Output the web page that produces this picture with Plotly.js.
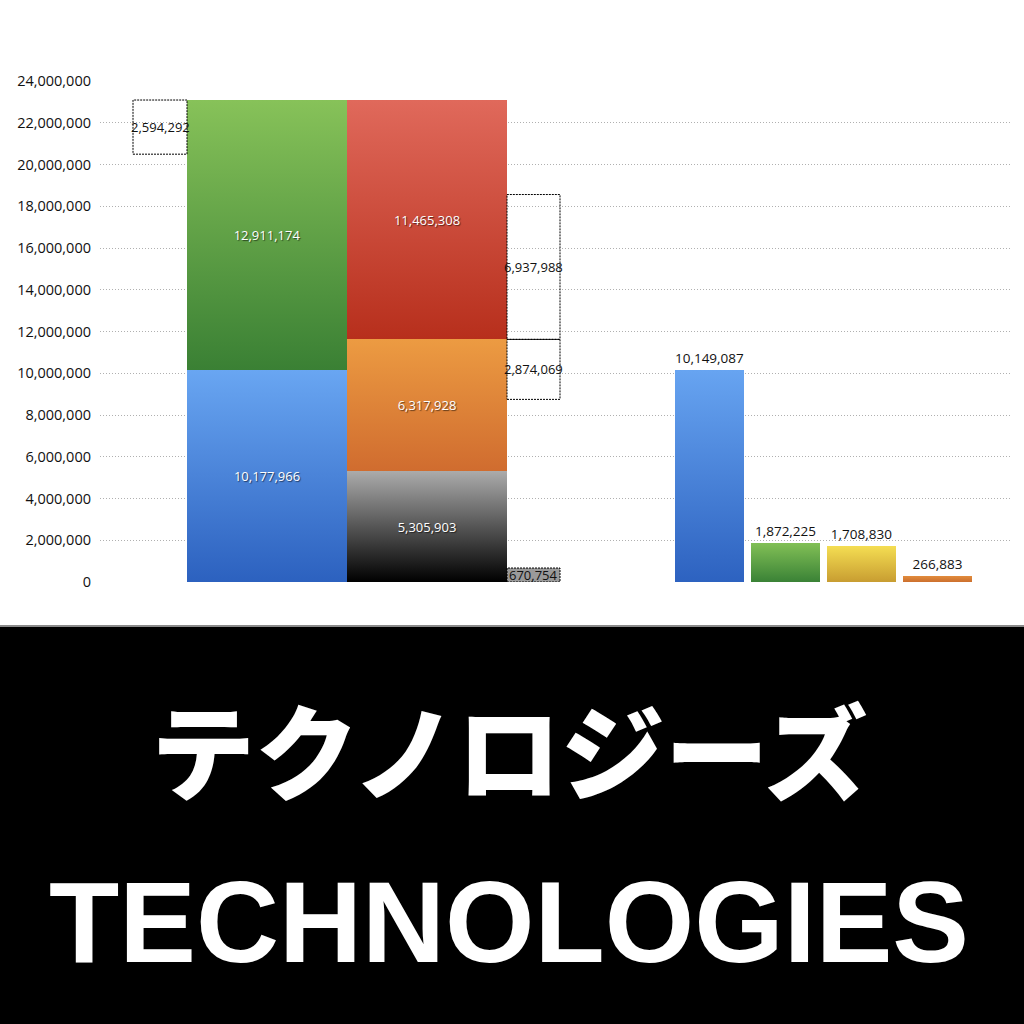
<!DOCTYPE html>
<html>
<head>
<meta charset="utf-8">
<script src="https://cdn.plot.ly/plotly-3.0.1.min.js"></script>
<style>
  html, body { margin: 0; padding: 0; background: #fff; }
  #chart { width: 1024px; height: 1024px; }
</style>
</head>
<body>
<div id="chart"></div>
<script>
// left stacked bar, bottom to top
var barAValues = [10177966, 12911174];
// right stacked bar, bottom to top
var barBValues = [5305903, 6317928, 11465308];
// dotted difference boxes
var gapLeft = 2594292;
var gapRight = [2874069, 6937988];
var gapSmall = 670754;
// separate bars on the right
var rightValues = [10149087, 1872225, 1708830, 266883];

var yTicks = [0, 2e6, 4e6, 6e6, 8e6, 10e6, 12e6, 14e6, 16e6, 18e6, 20e6, 22e6, 24e6];

function fmt(v) { return v.toLocaleString('en-US'); }

var labelFont = { family: 'Open Sans, sans-serif', size: 13, color: '#ffffff', shadow: '1px 1px 1px rgba(0,0,0,0.55)' };

// [top, bottom] colour pairs for the gradients
var gradA = [['#69a6f2', '#2c61bf'], ['#87c259', '#3a8034']];
var gradB = [['#ababab', '#000000'], ['#ec9b42', '#d06c2f'], ['#e0695b', '#b72f1c']];
var gradRight = [['#67a4f1', '#2d62c0'], ['#82c056', '#3a8236'], ['#f4dd52', '#c89d31'], ['#e08a3c', '#cc6f2e']];

var traces = [];
barAValues.forEach(function(v, i) {
  traces.push({
    type: 'bar', x: [167], y: [v], width: 160,
    marker: { color: gradA[i][1], line: { width: 0 } },
    text: [fmt(v)], textposition: 'inside', insidetextanchor: 'middle',
    constraintext: 'none', textangle: 0, textfont: labelFont, hoverinfo: 'skip'
  });
});
barBValues.forEach(function(v, i) {
  traces.push({
    type: 'bar', x: [327], y: [v], width: 160,
    marker: { color: gradB[i][1], line: { width: 0 } },
    text: [fmt(v)], textposition: 'inside', insidetextanchor: 'middle',
    constraintext: 'none', textangle: 0, textfont: labelFont, hoverinfo: 'skip'
  });
});
traces.push({
  type: 'bar', x: [609.5, 685.5, 761.5, 837.5], y: rightValues, width: 69,
  marker: { color: gradRight.map(function(g) { return g[1]; }), line: { width: 0 } },
  text: rightValues.map(fmt), textposition: 'outside', cliponaxis: false,
  constraintext: 'none', textangle: 0,
  textfont: { family: 'Open Sans, sans-serif', size: 13.5, color: '#111' }, hoverinfo: 'skip'
});

var topA = barAValues.reduce(function(a, b) { return a + b; }, 0);
var midB = barBValues[0] + barBValues[1];

var boxes = [
  { x0: 33, x1: 87, y0: topA - gapLeft, y1: topA, v: gapLeft, fill: 'rgba(0,0,0,0)' },
  { x0: 407, x1: 460, y0: midB - gapRight[0], y1: midB, v: gapRight[0], fill: 'rgba(0,0,0,0)' },
  { x0: 407, x1: 460, y0: midB, y1: midB + gapRight[1], v: gapRight[1], fill: 'rgba(0,0,0,0)' },
  { x0: 407, x1: 460, y0: 0, y1: gapSmall, v: gapSmall, fill: '#9a9a9a' }
];

var shapes = [
  // black footer and grey rule
  { type: 'rect', xref: 'paper', yref: 'paper', x0: -0.12, x1: 1.03, y0: 0, y1: 0.3877, fillcolor: '#000', line: { width: 0 }, layer: 'below' },
  { type: 'rect', xref: 'paper', yref: 'paper', x0: -0.12, x1: 1.03, y0: 0.3877, y1: 0.3896, fillcolor: '#8a8a8a', line: { width: 0 }, layer: 'below' }
];
var annotations = [];
boxes.forEach(function(b) {
  shapes.push({ type: 'rect', xref: 'x', yref: 'y', x0: b.x0, x1: b.x1, y0: b.y0, y1: b.y1,
    fillcolor: b.fill, line: { color: '#000', width: 1, dash: '2px,1px' }, layer: 'above' });
  annotations.push({ xref: 'x', yref: 'y', x: (b.x0 + b.x1) / 2, y: (b.y0 + b.y1) / 2,
    text: fmt(b.v), showarrow: false, font: { family: 'Open Sans, sans-serif', size: 13, color: '#111' } });
});

annotations.push({ xref: 'paper', yref: 'paper', x: 0.4505, y: 0.2705, xanchor: 'center', yanchor: 'middle',
  text: 'テクノロジーズ', showarrow: false,
  font: { family: '"Noto Sans CJK JP", sans-serif', size: 104, color: '#fff', weight: 900 } });
annotations.push({ xref: 'paper', yref: 'paper', x: 0.4495, y: 0.0996, xanchor: 'center', yanchor: 'middle',
  text: 'TECHNOLOGIES', showarrow: false,
  font: { family: '"Liberation Sans", Arial, sans-serif', size: 115, color: '#fff', weight: 700 } });

var layout = {
  width: 1024, height: 1024,
  margin: { l: 100, r: 14, t: 0, b: 0 },
  paper_bgcolor: '#fff', plot_bgcolor: 'rgba(0,0,0,0)',
  barmode: 'stack', showlegend: false,
  xaxis: { range: [0, 910], visible: false, fixedrange: true },
  yaxis: {
    domain: [0.4316, 0.9209], range: [0, 24e6],
    tickvals: yTicks, ticktext: yTicks.map(fmt),
    showgrid: true, gridcolor: '#b0b0b0', griddash: '1px,2px', gridwidth: 1,
    zeroline: false, showline: false, ticks: '', ticklabelstandoff: 8,
    tickfont: { family: 'Open Sans, sans-serif', size: 14.5, color: '#111' }, fixedrange: true
  },
  shapes: shapes,
  annotations: annotations
};

var gd = document.getElementById('chart');
Plotly.newPlot(gd, traces, layout, { staticPlot: true }).then(function() {
  // paint vertical gradients onto the bar paths
  var svg = gd.querySelector('svg.main-svg');
  var ns = 'http://www.w3.org/2000/svg';
  var defs = svg.querySelector('defs') || svg.insertBefore(document.createElementNS(ns, 'defs'), svg.firstChild);
  var pairsPerTrace = [[gradA[0]], [gradA[1]], [gradB[0]], [gradB[1]], [gradB[2]], gradRight];
  var groups = gd.querySelectorAll('.barlayer .trace');
  groups.forEach(function(g, ti) {
    g.querySelectorAll('.point path').forEach(function(p, pi) {
      var pair = pairsPerTrace[ti][pi];
      var id = 'grad' + ti + '_' + pi;
      var lg = document.createElementNS(ns, 'linearGradient');
      lg.setAttribute('id', id);
      lg.setAttribute('x1', '0'); lg.setAttribute('y1', '0');
      lg.setAttribute('x2', '0'); lg.setAttribute('y2', '1');
      [[0, pair[0]], [1, pair[1]]].forEach(function(s) {
        var st = document.createElementNS(ns, 'stop');
        st.setAttribute('offset', s[0]);
        st.setAttribute('stop-color', s[1]);
        lg.appendChild(st);
      });
      defs.appendChild(lg);
      p.style.fill = 'url(#' + id + ')';
    });
  });
});
</script>
</body>
</html>
